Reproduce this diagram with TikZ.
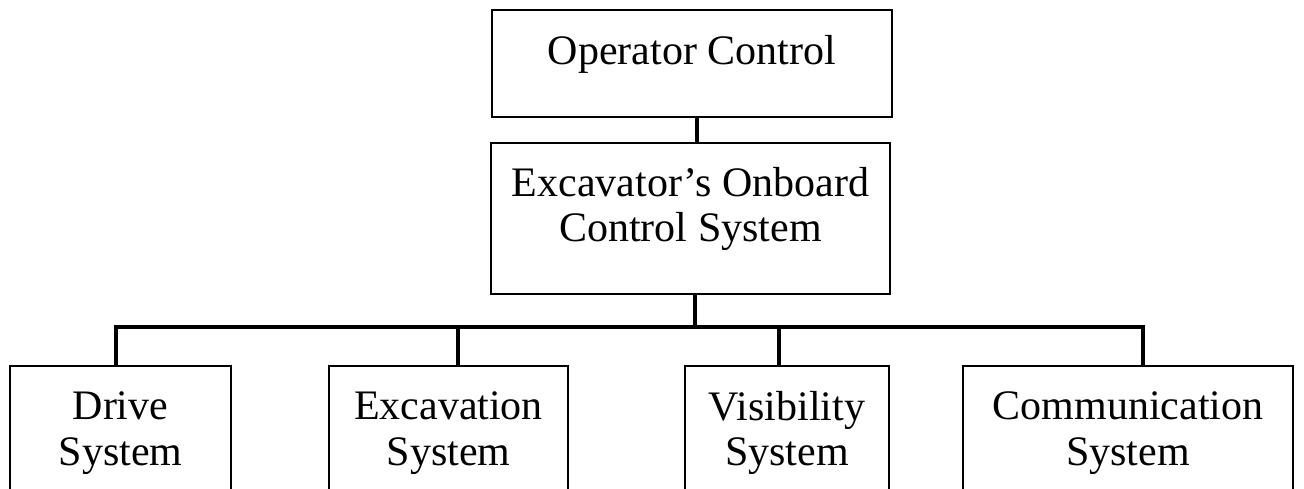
\documentclass[tikz,border=0pt]{standalone}
\usepackage{fontspec}
\setmainfont{Liberation Serif}

\tikzset{
  blk/.style={draw, line width=1.1pt, align=center, inner sep=0pt,
    font=\fontsize{23.9pt}{26pt}\selectfont},
  wire/.style={line width=2.4pt},
}

\begin{document}
\begin{tikzpicture}[x=0.02cm, y=-0.02cm]
        \useasboundingbox (0,0) rectangle (1304,489);
        \clip (0,0) rectangle (1304,489);
        % upper boxes
        \node[blk, minimum width=8cm, minimum height=2.14cm, text height=0.58cm, text depth=0.52cm] (opctl) at (692,63.5) {Operator Control};
        \node[blk, minimum width=7.98cm, minimum height=3.02cm, text height=1.48cm, text depth=0.54cm] (onboard) at (690.5,218.5) {Excavator's Onboard\\Control System};
        % subsystem boxes, cut at the lower edge
        \foreach \n/\x/\w/\t in {drive/120.5/4.42/Drive\\System, excav/448.5/4.78/Excavation\\System,
                                 visib/787/4.08/Visibility\\System, comm/1128/6.6/Communication\\System}
            \node[blk, anchor=north, minimum width=\w cm, minimum height=2.68cm] (\n) at (\x,365) {\t};
        % connectors
        \draw[wire] ([xshift=0.1cm]opctl.south) -- ([xshift=0.1cm]opctl.south |- onboard.north);
        \draw[wire] ([xshift=0.09cm]onboard.south) -- ++(0,32) coordinate (bus);
        \foreach \n/\dx in {drive/-4.5, excav/9.5, visib/-8, comm/15}
            \draw[wire] (bus) -| ([xshift=\dx*0.02cm]\n.north);
    \end{tikzpicture}
\end{document}
